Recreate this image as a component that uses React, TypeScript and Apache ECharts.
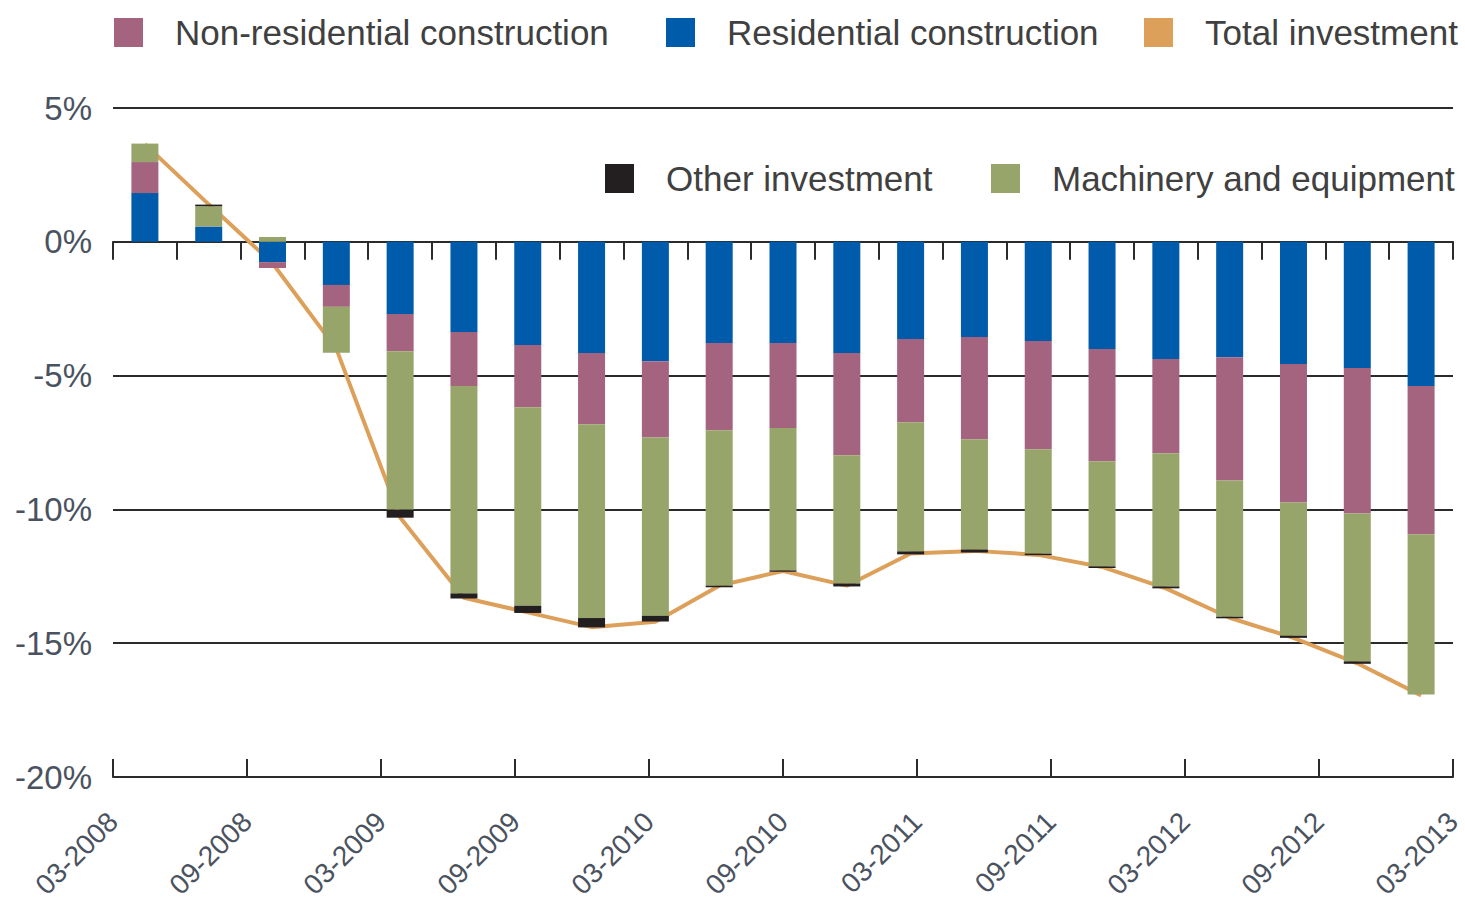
import React, { useEffect, useRef } from "react";
import * as echarts from "echarts";

const quarters = [
  "03-2008", "06-2008", "09-2008", "12-2008",
  "03-2009", "06-2009", "09-2009", "12-2009",
  "03-2010", "06-2010", "09-2010", "12-2010",
  "03-2011", "06-2011", "09-2011", "12-2011",
  "03-2012", "06-2012", "09-2012", "12-2012",
  "03-2013",
];
const barQuarters = quarters.map((q) => "b" + q);

const residential = [1.82, 0.57, -0.76, -1.61, -2.70, -3.37, -3.86, -4.16, -4.46, -3.78, -3.78, -4.16, -3.63, -3.56, -3.71, -4.01, -4.38, -4.31, -4.57, -4.72, -5.39];
const nonResidential = [1.16, 0, -0.22, -0.82, -1.39, -2.02, -2.32, -2.66, -2.85, -3.26, -3.18, -3.82, -3.11, -3.82, -4.04, -4.19, -3.52, -4.61, -5.17, -5.43, -5.54];
const machinery = [0.69, 0.76, 0.18, -1.72, -5.92, -7.75, -7.42, -7.24, -6.67, -5.81, -5.32, -4.79, -4.83, -4.12, -3.90, -3.93, -4.98, -5.09, -4.98, -5.53, -5.99];
const other = [0, 0.06, 0, 0, -0.30, -0.19, -0.27, -0.35, -0.21, -0.06, -0.05, -0.11, -0.11, -0.11, -0.06, -0.06, -0.07, -0.06, -0.08, -0.09, 0];
const totalInvestment = [3.65, 1.4, -0.8, -4.0, -10.3, -13.3, -13.85, -14.4, -14.2, -12.85, -12.3, -12.85, -11.65, -11.55, -11.7, -12.15, -12.95, -14.05, -14.8, -15.75, -16.95];

const yTicks = { min: -20, max: 5, interval: 5 };

const C_RES = "#005BAA";
const C_NONRES = "#A4637F";
const C_MACH = "#98A56A";
const C_OTHER = "#231F20";
const C_TOTAL = "#DDA05A";

const FONT = "'Liberation Sans', 'Noto Sans', sans-serif";
const TEXT = "#404040";

function legendItem(name: string, left: number, top: number) {
  return {
    show: true,
    data: [{ name, icon: "rect" }],
    left,
    top,
    itemWidth: 29,
    itemHeight: 29,
    padding: 0,
    selectedMode: false,
    textStyle: {
      fontFamily: FONT,
      fontSize: 35,
      color: TEXT,
      padding: [0, 0, 0, 27],
    },
  };
}

export default function App() {
  const ref = useRef<HTMLDivElement>(null);
  useEffect(() => {
    if (!ref.current) return;
    const chart = echarts.init(ref.current, undefined, { renderer: "svg", width: 1465, height: 901 });
    const barBase = {
      type: "bar" as const,
      stack: "inv",
      barWidth: 27,
      xAxisIndex: 0,
      yAxisIndex: 0,
      z: 3,
    };
    chart.setOption({
      animation: false,
      textStyle: { fontFamily: FONT },
      legend: [
        legendItem("Non-residential construction", 114, 15),
        legendItem("Residential construction", 666, 15),
        legendItem("Total investment", 1144, 15),
        legendItem("Other investment", 605, 161),
        legendItem("Machinery and equipment", 991, 161),
      ],
      grid: {
        left: 113,
        right: 12,
        top: 108,
        bottom: 124,
        containLabel: false,
        outerBoundsMode: "none",
      },
      xAxis: [
        {
          type: "category",
          data: barQuarters,
          boundaryGap: true,
          position: "bottom",
          axisLine: { show: true, onZero: true, lineStyle: { color: "#2b2b2b", width: 2 } },
          axisTick: { show: true, interval: 0, inside: false, length: 18, lineStyle: { color: "#2b2b2b", width: 2 } },
          axisLabel: { show: false },
          splitLine: { show: false },
        },
        {
          type: "category",
          data: quarters,
          boundaryGap: false,
          position: "bottom",
          axisLine: { show: true, onZero: false, lineStyle: { color: "#2b2b2b", width: 2 } },
          axisTick: { show: true, interval: 1, inside: true, length: 18, lineStyle: { color: "#2b2b2b", width: 2 } },
          axisLabel: {
            show: true,
            interval: 1,
            rotate: 45,
            margin: 40,
            fontFamily: FONT,
            fontSize: 28,
            color: "#4a5260",
          },
          splitLine: { show: false },
        },
      ],
      yAxis: {
        type: "value",
        min: yTicks.min,
        max: yTicks.max,
        interval: yTicks.interval,
        axisLine: { show: false },
        axisTick: { show: false },
        axisLabel: {
          formatter: (v: number) => `${v}%`,
          margin: 21,
          fontFamily: FONT,
          fontSize: 33,
          color: "#4a5260",
        },
        splitLine: { show: true, lineStyle: { color: "#2b2b2b", width: 2 } },
      },
      series: [
        {
          name: "Total investment",
          type: "line",
          data: totalInvestment,
          xAxisIndex: 0,
          yAxisIndex: 0,
          symbol: "none",
          z: 1,
          color: C_TOTAL,
          itemStyle: { color: C_TOTAL },
          lineStyle: { color: C_TOTAL, width: 4 },
        },
        { ...barBase, name: "Residential construction", data: residential, itemStyle: { color: C_RES } },
        { ...barBase, name: "Non-residential construction", data: nonResidential, itemStyle: { color: C_NONRES } },
        { ...barBase, name: "Machinery and equipment", data: machinery, itemStyle: { color: C_MACH } },
        { ...barBase, name: "Other investment", data: other, itemStyle: { color: C_OTHER } },
      ],
    });
    return () => chart.dispose();
  }, []);
  return (
    <div
      ref={ref}
      style={{ position: "fixed", left: 0, top: 0, width: 1465, height: 901, background: "#ffffff" }}
    />
  );
}
